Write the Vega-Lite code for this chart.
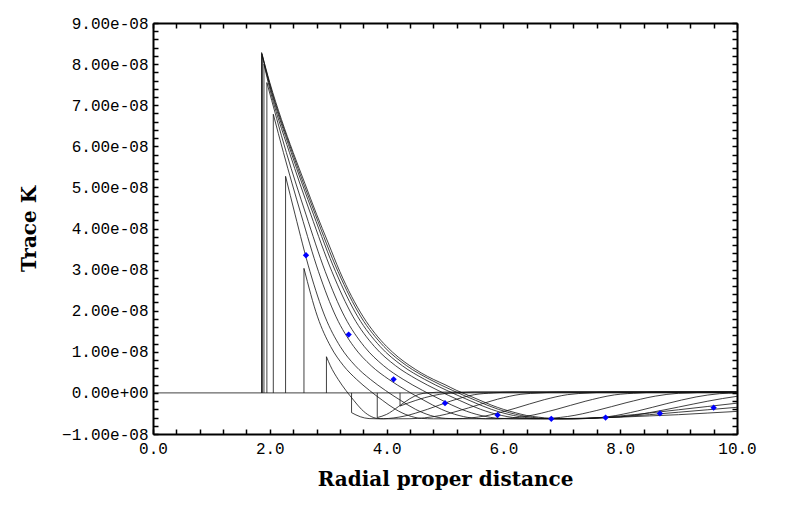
{
 "$schema": "https://vega.github.io/schema/vega-lite/v6.json",
 "width": 584, "height": 411,
 "autosize": "none",
 "padding": {"left": 153, "top": 23, "right": 52, "bottom": 85},
 "background": "white",
 "config": {"view": {"stroke": null},
  "axis": {"labelFont": "Liberation Mono", "labelFontSize": 16, "labelColor": "#000", "domainColor": "#000", "domainWidth": 2, "tickColor": "#000", "tickWidth": 1.5, "grid": false,
   "titleFont": "DejaVu Serif", "titleFontWeight": "bold", "titleFontSize": 20, "titleColor": "#000"}},
 "datasets": {
  "curves": [
   {"c":0,"x":1.86,"y":8.28e-8},{"c":0,"x":2.0,"y":7.55e-8},{"c":0,"x":2.2,"y":6.65e-8},{"c":0,"x":2.4,"y":5.85e-8},{"c":0,"x":2.6,"y":5.1e-8},{"c":0,"x":2.8,"y":4.35e-8},{"c":0,"x":3.0,"y":3.65e-8},{"c":0,"x":3.2,"y":2.95e-8},{"c":0,"x":3.4,"y":2.35e-8},{"c":0,"x":3.6,"y":1.85e-8},{"c":0,"x":3.8,"y":1.45e-8},{"c":0,"x":4.0,"y":1.13e-8},{"c":0,"x":4.2,"y":0.87e-8},{"c":0,"x":4.4,"y":0.66e-8},{"c":0,"x":4.6,"y":0.48e-8},{"c":0,"x":4.8,"y":0.33e-8},{"c":0,"x":5.0,"y":0.2e-8},{"c":0,"x":5.2,"y":0.06e-8},{"c":0,"x":5.4,"y":-0.06e-8},{"c":0,"x":5.6,"y":-0.18e-8},{"c":0,"x":5.8,"y":-0.3e-8},{"c":0,"x":6.0,"y":-0.4e-8},{"c":0,"x":6.2,"y":-0.48e-8},{"c":0,"x":6.4,"y":-0.55e-8},{"c":0,"x":6.6,"y":-0.59e-8},{"c":0,"x":6.8,"y":-0.62e-8},{"c":0,"x":7.0,"y":-0.63e-8},{"c":0,"x":7.2,"y":-0.63e-8},{"c":0,"x":7.4,"y":-0.62e-8},{"c":0,"x":7.6,"y":-0.61e-8},{"c":0,"x":8.0,"y":-0.59e-8},{"c":0,"x":8.5,"y":-0.56e-8},{"c":0,"x":9.0,"y":-0.53e-8},{"c":0,"x":9.5,"y":-0.49e-8},{"c":0,"x":10.0,"y":-0.45e-8},
   {"c":1,"x":1.865,"y":8.25e-8},{"c":1,"x":1.992,"y":7.55e-8},{"c":1,"x":2.385,"y":5.85e-8},{"c":1,"x":2.777,"y":4.35e-8},{"c":1,"x":3.169,"y":2.95e-8},{"c":1,"x":3.561,"y":1.85e-8},{"c":1,"x":3.953,"y":1.13e-8},{"c":1,"x":4.345,"y":0.66e-8},{"c":1,"x":4.738,"y":0.33e-8},{"c":1,"x":5.13,"y":0.06e-8},{"c":1,"x":5.522,"y":-0.18e-8},{"c":1,"x":5.914,"y":-0.4e-8},{"c":1,"x":6.306,"y":-0.55e-8},{"c":1,"x":6.698,"y":-0.62e-8},{"c":1,"x":7.1,"y":-0.63e-8},{"c":1,"x":7.5,"y":-0.62e-8},{"c":1,"x":8.0,"y":-0.58e-8},{"c":1,"x":8.5,"y":-0.53e-8},{"c":1,"x":9.0,"y":-0.47e-8},{"c":1,"x":9.5,"y":-0.41e-8},{"c":1,"x":10.0,"y":-0.35e-8},{"c":1,"x":10.5,"y":-0.29e-8},
   {"c":2,"x":1.87,"y":8.2e-8},{"c":2,"x":1.984,"y":7.55e-8},{"c":2,"x":2.365,"y":5.85e-8},{"c":2,"x":2.746,"y":4.35e-8},{"c":2,"x":3.127,"y":2.95e-8},{"c":2,"x":3.508,"y":1.85e-8},{"c":2,"x":3.889,"y":1.13e-8},{"c":2,"x":4.27,"y":0.66e-8},{"c":2,"x":4.651,"y":0.33e-8},{"c":2,"x":5.032,"y":0.06e-8},{"c":2,"x":5.413,"y":-0.18e-8},{"c":2,"x":5.794,"y":-0.4e-8},{"c":2,"x":6.175,"y":-0.55e-8},{"c":2,"x":6.556,"y":-0.62e-8},{"c":2,"x":6.9,"y":-0.63e-8},{"c":2,"x":7.4,"y":-0.62e-8},{"c":2,"x":8.0,"y":-0.56e-8},{"c":2,"x":8.5,"y":-0.49e-8},{"c":2,"x":9.0,"y":-0.41e-8},{"c":2,"x":9.5,"y":-0.33e-8},{"c":2,"x":10.0,"y":-0.25e-8},{"c":2,"x":10.5,"y":-0.18e-8},
   {"c":3,"x":1.9,"y":8.0e-8},{"c":3,"x":1.973,"y":7.55e-8},{"c":3,"x":2.336,"y":5.85e-8},{"c":3,"x":2.7,"y":4.35e-8},{"c":3,"x":3.064,"y":2.95e-8},{"c":3,"x":3.427,"y":1.85e-8},{"c":3,"x":3.791,"y":1.13e-8},{"c":3,"x":4.155,"y":0.66e-8},{"c":3,"x":4.518,"y":0.33e-8},{"c":3,"x":4.882,"y":0.06e-8},{"c":3,"x":5.245,"y":-0.18e-8},{"c":3,"x":5.609,"y":-0.4e-8},{"c":3,"x":5.973,"y":-0.55e-8},{"c":3,"x":6.336,"y":-0.62e-8},{"c":3,"x":6.7,"y":-0.63e-8},{"c":3,"x":7.2,"y":-0.62e-8},{"c":3,"x":8.0,"y":-0.583e-8},{"c":3,"x":8.5,"y":-0.481e-8},{"c":3,"x":9.0,"y":-0.344e-8},{"c":3,"x":9.5,"y":-0.201e-8},{"c":3,"x":10.0,"y":-0.083e-8},{"c":3,"x":10.5,"y":-0.012e-8},
   {"c":4,"x":1.95,"y":7.55e-8},{"c":4,"x":2.283,"y":5.85e-8},{"c":4,"x":2.617,"y":4.35e-8},{"c":4,"x":2.95,"y":2.95e-8},{"c":4,"x":3.283,"y":1.85e-8},{"c":4,"x":3.617,"y":1.13e-8},{"c":4,"x":3.95,"y":0.66e-8},{"c":4,"x":4.283,"y":0.33e-8},{"c":4,"x":4.617,"y":0.06e-8},{"c":4,"x":4.95,"y":-0.18e-8},{"c":4,"x":5.283,"y":-0.4e-8},{"c":4,"x":5.617,"y":-0.55e-8},{"c":4,"x":5.95,"y":-0.62e-8},{"c":4,"x":6.3,"y":-0.63e-8},{"c":4,"x":7.0,"y":-0.63e-8},{"c":4,"x":7.3,"y":-0.628e-8},{"c":4,"x":7.8,"y":-0.578e-8},{"c":4,"x":8.3,"y":-0.439e-8},{"c":4,"x":8.8,"y":-0.26e-8},{"c":4,"x":9.3,"y":-0.098e-8},{"c":4,"x":9.7,"y":-0.019e-8},{"c":4,"x":10.0,"y":0.0},{"c":4,"x":10.3,"y":0.02e-8},
   {"c":5,"x":2.06,"y":6.78e-8},{"c":5,"x":2.233,"y":5.85e-8},{"c":5,"x":2.534,"y":4.35e-8},{"c":5,"x":2.834,"y":2.95e-8},{"c":5,"x":3.135,"y":1.85e-8},{"c":5,"x":3.436,"y":1.13e-8},{"c":5,"x":3.737,"y":0.66e-8},{"c":5,"x":4.037,"y":0.33e-8},{"c":5,"x":4.338,"y":0.06e-8},{"c":5,"x":4.639,"y":-0.18e-8},{"c":5,"x":4.94,"y":-0.4e-8},{"c":5,"x":5.24,"y":-0.55e-8},{"c":5,"x":5.541,"y":-0.62e-8},{"c":5,"x":5.85,"y":-0.63e-8},{"c":5,"x":6.4,"y":-0.63e-8},{"c":5,"x":6.6,"y":-0.628e-8},{"c":5,"x":7.1,"y":-0.574e-8},{"c":5,"x":7.6,"y":-0.427e-8},{"c":5,"x":8.1,"y":-0.24e-8},{"c":5,"x":8.6,"y":-0.079e-8},{"c":5,"x":9.0,"y":-0.009e-8},{"c":5,"x":9.2,"y":0.0},{"c":5,"x":9.5,"y":0.02e-8},{"c":5,"x":10.3,"y":0.02e-8},
   {"c":6,"x":2.27,"y":5.27e-8},{"c":6,"x":2.431,"y":4.35e-8},{"c":6,"x":2.689,"y":2.95e-8},{"c":6,"x":2.947,"y":1.85e-8},{"c":6,"x":3.205,"y":1.13e-8},{"c":6,"x":3.464,"y":0.66e-8},{"c":6,"x":3.722,"y":0.33e-8},{"c":6,"x":3.98,"y":0.06e-8},{"c":6,"x":4.238,"y":-0.18e-8},{"c":6,"x":4.496,"y":-0.4e-8},{"c":6,"x":4.754,"y":-0.55e-8},{"c":6,"x":5.012,"y":-0.62e-8},{"c":6,"x":5.3,"y":-0.63e-8},{"c":6,"x":5.7,"y":-0.63e-8},{"c":6,"x":5.9,"y":-0.628e-8},{"c":6,"x":6.4,"y":-0.567e-8},{"c":6,"x":6.9,"y":-0.403e-8},{"c":6,"x":7.4,"y":-0.204e-8},{"c":6,"x":7.9,"y":-0.049e-8},{"c":6,"x":8.34,"y":0.0},{"c":6,"x":8.64,"y":0.02e-8},{"c":6,"x":10.3,"y":0.02e-8},
   {"c":7,"x":2.585,"y":3.03e-8},{"c":7,"x":2.818,"y":1.85e-8},{"c":7,"x":3.041,"y":1.13e-8},{"c":7,"x":3.263,"y":0.66e-8},{"c":7,"x":3.485,"y":0.33e-8},{"c":7,"x":3.707,"y":0.06e-8},{"c":7,"x":3.929,"y":-0.18e-8},{"c":7,"x":4.152,"y":-0.4e-8},{"c":7,"x":4.374,"y":-0.55e-8},{"c":7,"x":4.596,"y":-0.62e-8},{"c":7,"x":4.8,"y":-0.63e-8},{"c":7,"x":5.0,"y":-0.63e-8},{"c":7,"x":5.2,"y":-0.628e-8},{"c":7,"x":5.7,"y":-0.558e-8},{"c":7,"x":6.2,"y":-0.375e-8},{"c":7,"x":6.7,"y":-0.165e-8},{"c":7,"x":7.1,"y":-0.042e-8},{"c":7,"x":7.48,"y":0.0},{"c":7,"x":7.8,"y":0.02e-8},{"c":7,"x":10.3,"y":0.02e-8},
   {"c":8,"x":2.97,"y":0.88e-8},{"c":8,"x":3.037,"y":0.66e-8},{"c":8,"x":3.17,"y":0.33e-8},{"c":8,"x":3.303,"y":0.06e-8},{"c":8,"x":3.437,"y":-0.18e-8},{"c":8,"x":3.57,"y":-0.4e-8},{"c":8,"x":3.703,"y":-0.55e-8},{"c":8,"x":3.837,"y":-0.62e-8},{"c":8,"x":3.95,"y":-0.63e-8},{"c":8,"x":4.2,"y":-0.63e-8},{"c":8,"x":4.4,"y":-0.628e-8},{"c":8,"x":4.9,"y":-0.555e-8},{"c":8,"x":5.4,"y":-0.366e-8},{"c":8,"x":5.9,"y":-0.153e-8},{"c":8,"x":6.3,"y":-0.033e-8},{"c":8,"x":6.63,"y":0.0},{"c":8,"x":6.95,"y":0.02e-8},{"c":8,"x":10.3,"y":0.02e-8},
   {"c":9,"x":3.4,"y":-0.48e-8},{"c":9,"x":3.55,"y":-0.58e-8},{"c":9,"x":3.7,"y":-0.625e-8},{"c":9,"x":3.85,"y":-0.63e-8},{"c":9,"x":3.95,"y":-0.628e-8},{"c":9,"x":4.3,"y":-0.566e-8},{"c":9,"x":4.7,"y":-0.399e-8},{"c":9,"x":5.1,"y":-0.198e-8},{"c":9,"x":5.5,"y":-0.044e-8},{"c":9,"x":5.83,"y":0.0},{"c":9,"x":6.15,"y":0.02e-8},{"c":9,"x":10.3,"y":0.02e-8},
   {"c":10,"x":3.84,"y":-0.6e-8},{"c":10,"x":4.0,"y":-0.523e-8},{"c":10,"x":4.2,"y":-0.336e-8},{"c":10,"x":4.4,"y":-0.14e-8},{"c":10,"x":4.55,"y":-0.037e-8},{"c":10,"x":4.7,"y":0.0},{"c":10,"x":5.0,"y":0.02e-8},{"c":10,"x":10.3,"y":0.02e-8},
   {"c":11,"x":4.23,"y":-0.32e-8},{"c":11,"x":4.5,"y":-0.182e-8},{"c":11,"x":4.8,"y":-0.064e-8},{"c":11,"x":5.0,"y":-0.016e-8},{"c":11,"x":5.2,"y":0.0},{"c":11,"x":5.5,"y":0.02e-8},{"c":11,"x":10.3,"y":0.02e-8}
  ],
  "cuts": [
   {"x":1.86,"base":0,"y0":8.28e-8},{"x":1.865,"base":0,"y0":8.25e-8},{"x":1.87,"base":0,"y0":8.2e-8},{"x":1.9,"base":0,"y0":8.0e-8},{"x":1.95,"base":0,"y0":7.55e-8},{"x":2.06,"base":0,"y0":6.78e-8},{"x":2.27,"base":0,"y0":5.27e-8},{"x":2.585,"base":0,"y0":3.03e-8},{"x":2.97,"base":0,"y0":0.88e-8},{"x":3.4,"base":0,"y0":-0.48e-8},{"x":3.84,"base":0,"y0":-0.6e-8},{"x":4.23,"base":0,"y0":-0.32e-8}
  ],
  "zeroline": [{"from": 0, "to": 10, "level": 0}],
  "diamonds": [
   {"x":2.62,"y":3.35e-8},{"x":3.35,"y":1.42e-8},{"x":4.12,"y":0.33e-8},{"x":5.0,"y":-0.25e-8},{"x":5.9,"y":-0.54e-8},{"x":6.82,"y":-0.63e-8},{"x":7.75,"y":-0.6e-8},{"x":8.68,"y":-0.5e-8},{"x":9.6,"y":-0.36e-8}
  ]
 },
 "resolve": {"axis": {"x": "independent", "y": "independent"}},
 "layer": [
  {"data": {"name": "curves"},
   "mark": {"type": "line", "interpolate": "monotone", "color": "#111", "strokeWidth": 0.8, "clip": true},
   "encoding": {
    "x": {"field": "x", "type": "quantitative", "scale": {"domain": [0, 10], "nice": false},
     "axis": {"orient": "bottom", "title": "Radial proper distance", "titlePadding": 13,
      "values": [0,0.4,0.8,1.2,1.6,2,2.4,2.8,3.2,3.6,4,4.4,4.8,5.2,5.6,6,6.4,6.8,7.2,7.6,8,8.4,8.8,9.2,9.6,10],
      "labelExpr": "abs(datum.value/2 - round(datum.value/2)) < 0.001 ? format(datum.value, '.1f') : ''",
      "tickSize": -5,
      "labelPadding": 11, "labelFlush": false, "labelOverlap": false}},
    "y": {"field": "y", "type": "quantitative", "scale": {"domain": [-1e-8, 9e-8], "nice": false, "zero": false},
     "axis": {"orient": "left", "title": "Trace K", "titlePadding": 22,
      "values": [-1e-8,-0.8e-8,-0.6e-8,-0.4e-8,-0.2e-8,0,0.2e-8,0.4e-8,0.6e-8,0.8e-8,1e-8,1.2e-8,1.4e-8,1.6e-8,1.8e-8,2e-8,2.2e-8,2.4e-8,2.6e-8,2.8e-8,3e-8,3.2e-8,3.4e-8,3.6e-8,3.8e-8,4e-8,4.2e-8,4.4e-8,4.6e-8,4.8e-8,5e-8,5.2e-8,5.4e-8,5.6e-8,5.8e-8,6e-8,6.2e-8,6.4e-8,6.6e-8,6.8e-8,7e-8,7.2e-8,7.4e-8,7.6e-8,7.8e-8,8e-8,8.2e-8,8.4e-8,8.6e-8,8.8e-8,9e-8],
      "labelExpr": "abs(datum.value*1e8 - round(datum.value*1e8)) < 0.001 ? (abs(datum.value) < 1e-12 ? '0.00e+00' : format(round(datum.value*1e8), '.2f') + 'e-08') : ''",
      "tickSize": -5,
      "labelPadding": 10, "labelOverlap": false}},
    "detail": {"field": "c", "type": "nominal"}
   }},
  {"data": {"name": "zeroline"},
   "mark": {"type": "rule", "color": "#111", "strokeWidth": 0.8},
   "encoding": {"x": {"field": "from", "type": "quantitative", "axis": null}, "x2": {"field": "to"}, "y": {"field": "level", "type": "quantitative", "axis": null}}},
  {"data": {"name": "cuts"},
   "mark": {"type": "rule", "color": "#111", "strokeWidth": 0.8},
   "encoding": {"x": {"field": "x", "type": "quantitative", "axis": null}, "y": {"field": "base", "type": "quantitative", "axis": null}, "y2": {"field": "y0"}}},
  {"data": {"name": "diamonds"},
   "mark": {"type": "point", "shape": "diamond", "filled": true, "color": "#0000ff", "size": 40, "opacity": 1},
   "encoding": {
    "x": {"field": "x", "type": "quantitative", "scale": {"domain": [0, 10], "nice": false},
     "axis": {"orient": "top", "title": null, "labels": false,
      "values": [0,0.4,0.8,1.2,1.6,2,2.4,2.8,3.2,3.6,4,4.4,4.8,5.2,5.6,6,6.4,6.8,7.2,7.6,8,8.4,8.8,9.2,9.6,10],
      "tickSize": -5}},
    "y": {"field": "y", "type": "quantitative", "scale": {"domain": [-1e-8, 9e-8], "nice": false, "zero": false},
     "axis": {"orient": "right", "title": null, "labels": false,
      "values": [-1e-8,-0.8e-8,-0.6e-8,-0.4e-8,-0.2e-8,0,0.2e-8,0.4e-8,0.6e-8,0.8e-8,1e-8,1.2e-8,1.4e-8,1.6e-8,1.8e-8,2e-8,2.2e-8,2.4e-8,2.6e-8,2.8e-8,3e-8,3.2e-8,3.4e-8,3.6e-8,3.8e-8,4e-8,4.2e-8,4.4e-8,4.6e-8,4.8e-8,5e-8,5.2e-8,5.4e-8,5.6e-8,5.8e-8,6e-8,6.2e-8,6.4e-8,6.6e-8,6.8e-8,7e-8,7.2e-8,7.4e-8,7.6e-8,7.8e-8,8e-8,8.2e-8,8.4e-8,8.6e-8,8.8e-8,9e-8],
      "tickSize": -5}}
   }}
 ]
}
